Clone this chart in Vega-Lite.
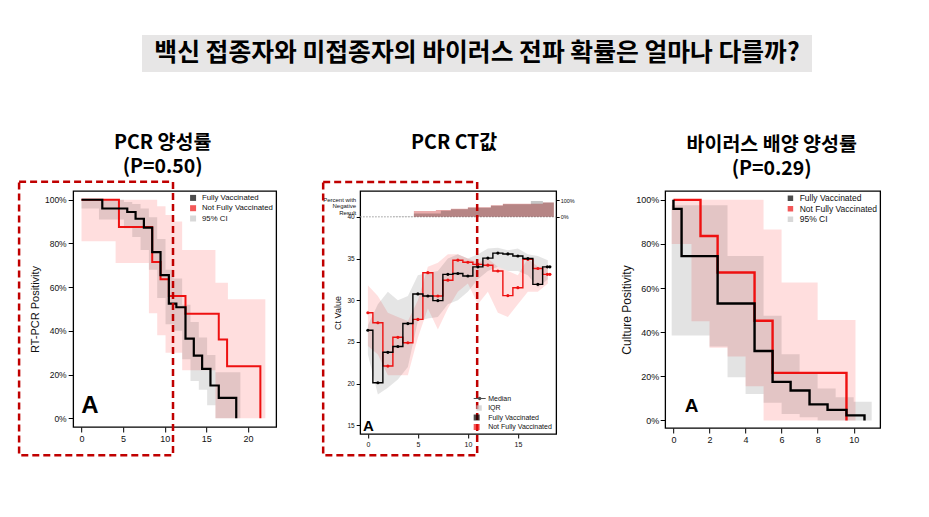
{
  "$schema": "https://vega.github.io/schema/vega-lite/v6.json",
  "background": "white",
  "padding": {"left": 17, "top": 35, "right": 2, "bottom": 2},
  "autosize": {"type": "pad"},
  "datasets": {
    "pcr_km": [
      {"g": "Fully Vaccinated", "t": 0, "v": 100}, {"g": "Fully Vaccinated", "t": 2.5, "v": 96}, {"g": "Fully Vaccinated", "t": 5.5, "v": 94.4},
      {"g": "Fully Vaccinated", "t": 6.5, "v": 91.3}, {"g": "Fully Vaccinated", "t": 7.5, "v": 87.2}, {"g": "Fully Vaccinated", "t": 8.5, "v": 76},
      {"g": "Fully Vaccinated", "t": 9.5, "v": 65.5}, {"g": "Fully Vaccinated", "t": 10.5, "v": 52.5}, {"g": "Fully Vaccinated", "t": 11.4, "v": 50.8},
      {"g": "Fully Vaccinated", "t": 12.5, "v": 36.4}, {"g": "Fully Vaccinated", "t": 13.5, "v": 28.7}, {"g": "Fully Vaccinated", "t": 14.5, "v": 22.6},
      {"g": "Fully Vaccinated", "t": 15.5, "v": 15}, {"g": "Fully Vaccinated", "t": 16.5, "v": 9.3}, {"g": "Fully Vaccinated", "t": 18.6, "v": 0},
      {"g": "Not Fully Vaccinated", "t": 0, "v": 100}, {"g": "Not Fully Vaccinated", "t": 4.5, "v": 87.5}, {"g": "Not Fully Vaccinated", "t": 8.5, "v": 71.5},
      {"g": "Not Fully Vaccinated", "t": 9.5, "v": 63.6}, {"g": "Not Fully Vaccinated", "t": 10.5, "v": 55.9}, {"g": "Not Fully Vaccinated", "t": 12.5, "v": 47.8},
      {"g": "Not Fully Vaccinated", "t": 16.5, "v": 36}, {"g": "Not Fully Vaccinated", "t": 17.5, "v": 23.8}, {"g": "Not Fully Vaccinated", "t": 21.5, "v": 0}
    ],
    "pcr_ci": [
      {"g": "Fully Vaccinated", "t": 0, "v2": 96, "v": 100}, {"g": "Fully Vaccinated", "t": 2.1, "v2": 91, "v": 100}, {"g": "Fully Vaccinated", "t": 5.1, "v2": 87, "v": 99},
      {"g": "Fully Vaccinated", "t": 6.1, "v2": 83, "v": 98}, {"g": "Fully Vaccinated", "t": 7.1, "v2": 77, "v": 96}, {"g": "Fully Vaccinated", "t": 8.1, "v2": 68, "v": 92},
      {"g": "Fully Vaccinated", "t": 9.1, "v2": 55, "v": 82}, {"g": "Fully Vaccinated", "t": 10.1, "v2": 43, "v": 68}, {"g": "Fully Vaccinated", "t": 11.1, "v2": 40, "v": 64},
      {"g": "Fully Vaccinated", "t": 12.1, "v2": 27, "v": 52}, {"g": "Fully Vaccinated", "t": 13.1, "v2": 17, "v": 44}, {"g": "Fully Vaccinated", "t": 14.1, "v2": 13, "v": 37},
      {"g": "Fully Vaccinated", "t": 15.1, "v2": 6, "v": 29}, {"g": "Fully Vaccinated", "t": 16.1, "v2": 0, "v": 21}, {"g": "Fully Vaccinated", "t": 19.1, "v2": 0, "v": 21},
      {"g": "Not Fully Vaccinated", "t": 0, "v2": 81, "v": 100}, {"g": "Not Fully Vaccinated", "t": 4.1, "v2": 71, "v": 100}, {"g": "Not Fully Vaccinated", "t": 8.1, "v2": 48, "v": 100},
      {"g": "Not Fully Vaccinated", "t": 9.1, "v2": 38, "v": 97}, {"g": "Not Fully Vaccinated", "t": 10.1, "v2": 30, "v": 93}, {"g": "Not Fully Vaccinated", "t": 11.1, "v2": 30, "v": 90},
      {"g": "Not Fully Vaccinated", "t": 12.1, "v2": 22, "v": 77}, {"g": "Not Fully Vaccinated", "t": 16.1, "v2": 0, "v": 62}, {"g": "Not Fully Vaccinated", "t": 17.6, "v2": 0, "v": 54.5},
      {"g": "Not Fully Vaccinated", "t": 22.1, "v2": 0, "v": 54.5}
    ],
    "ct_med": [
      {"g": "Fully Vaccinated", "d": 0, "v": 26.4}, {"g": "Fully Vaccinated", "d": 1, "v": 20.1}, {"g": "Fully Vaccinated", "d": 2, "v": 23.75},
      {"g": "Fully Vaccinated", "d": 3, "v": 24.45}, {"g": "Fully Vaccinated", "d": 4, "v": 27.2}, {"g": "Fully Vaccinated", "d": 5, "v": 30.75},
      {"g": "Fully Vaccinated", "d": 6, "v": 30.5}, {"g": "Fully Vaccinated", "d": 7, "v": 29.95}, {"g": "Fully Vaccinated", "d": 8, "v": 33.1},
      {"g": "Fully Vaccinated", "d": 9, "v": 33.2}, {"g": "Fully Vaccinated", "d": 10, "v": 32.9}, {"g": "Fully Vaccinated", "d": 11, "v": 34.0},
      {"g": "Fully Vaccinated", "d": 12, "v": 35.05}, {"g": "Fully Vaccinated", "d": 13, "v": 35.65}, {"g": "Fully Vaccinated", "d": 14, "v": 35.55},
      {"g": "Fully Vaccinated", "d": 15, "v": 35.3}, {"g": "Fully Vaccinated", "d": 16, "v": 35.0}, {"g": "Fully Vaccinated", "d": 17, "v": 31.9},
      {"g": "Fully Vaccinated", "d": 17.95, "v": 34.0}, {"g": "Fully Vaccinated", "d": 18.2, "v": 34.0},
      {"g": "Not Fully Vaccinated", "d": 0, "v": 28.5}, {"g": "Not Fully Vaccinated", "d": 1, "v": 27.3}, {"g": "Not Fully Vaccinated", "d": 2, "v": 22.1},
      {"g": "Not Fully Vaccinated", "d": 3, "v": 25.55}, {"g": "Not Fully Vaccinated", "d": 4, "v": 24.9}, {"g": "Not Fully Vaccinated", "d": 5, "v": 27.7},
      {"g": "Not Fully Vaccinated", "d": 6, "v": 33.3}, {"g": "Not Fully Vaccinated", "d": 7, "v": 30.5}, {"g": "Not Fully Vaccinated", "d": 8, "v": 32.4},
      {"g": "Not Fully Vaccinated", "d": 9, "v": 34.8}, {"g": "Not Fully Vaccinated", "d": 10, "v": 34.55}, {"g": "Not Fully Vaccinated", "d": 11, "v": 34.3},
      {"g": "Not Fully Vaccinated", "d": 12, "v": 34.2}, {"g": "Not Fully Vaccinated", "d": 13, "v": 33.5}, {"g": "Not Fully Vaccinated", "d": 14, "v": 30.55},
      {"g": "Not Fully Vaccinated", "d": 15, "v": 31.5}, {"g": "Not Fully Vaccinated", "d": 16, "v": 34.9}, {"g": "Not Fully Vaccinated", "d": 17, "v": 33.8},
      {"g": "Not Fully Vaccinated", "d": 17.95, "v": 33.1}, {"g": "Not Fully Vaccinated", "d": 18.2, "v": 33.1}
    ],
    "ct_iqr": [
      {"g": "Fully Vaccinated", "d": 0, "v2": 23.5, "v": 27.0}, {"g": "Fully Vaccinated", "d": 1, "v2": 18.7, "v": 29.5}, {"g": "Fully Vaccinated", "d": 2, "v2": 19.5, "v": 31.0},
      {"g": "Fully Vaccinated", "d": 3, "v2": 20.5, "v": 30.0}, {"g": "Fully Vaccinated", "d": 4, "v2": 22.0, "v": 30.5}, {"g": "Fully Vaccinated", "d": 5, "v2": 27.5, "v": 33.0},
      {"g": "Fully Vaccinated", "d": 6, "v2": 27.8, "v": 33.3}, {"g": "Fully Vaccinated", "d": 7, "v2": 28.0, "v": 33.5}, {"g": "Fully Vaccinated", "d": 8, "v2": 29.5, "v": 35.0},
      {"g": "Fully Vaccinated", "d": 9, "v2": 30.0, "v": 35.5}, {"g": "Fully Vaccinated", "d": 10, "v2": 31.0, "v": 35.0}, {"g": "Fully Vaccinated", "d": 11, "v2": 32.5, "v": 35.5},
      {"g": "Fully Vaccinated", "d": 12, "v2": 33.5, "v": 36.2}, {"g": "Fully Vaccinated", "d": 13, "v2": 34.0, "v": 36.3}, {"g": "Fully Vaccinated", "d": 14, "v2": 33.5, "v": 36.0},
      {"g": "Fully Vaccinated", "d": 15, "v2": 33.5, "v": 36.2}, {"g": "Fully Vaccinated", "d": 16, "v2": 33.0, "v": 35.5}, {"g": "Fully Vaccinated", "d": 17, "v2": 31.5, "v": 35.3},
      {"g": "Fully Vaccinated", "d": 18, "v2": 32.5, "v": 34.8},
      {"g": "Not Fully Vaccinated", "d": 0, "v2": 24.5, "v": 31.8}, {"g": "Not Fully Vaccinated", "d": 1, "v2": 23.5, "v": 30.5}, {"g": "Not Fully Vaccinated", "d": 2, "v2": 21.0, "v": 28.5},
      {"g": "Not Fully Vaccinated", "d": 3, "v2": 21.0, "v": 28.0}, {"g": "Not Fully Vaccinated", "d": 4, "v2": 21.0, "v": 27.5}, {"g": "Not Fully Vaccinated", "d": 5, "v2": 25.5, "v": 30.0},
      {"g": "Not Fully Vaccinated", "d": 6, "v2": 29.0, "v": 34.0}, {"g": "Not Fully Vaccinated", "d": 7, "v2": 26.5, "v": 34.5}, {"g": "Not Fully Vaccinated", "d": 8, "v2": 29.0, "v": 35.5},
      {"g": "Not Fully Vaccinated", "d": 9, "v2": 31.0, "v": 35.5}, {"g": "Not Fully Vaccinated", "d": 10, "v2": 32.0, "v": 35.0}, {"g": "Not Fully Vaccinated", "d": 11, "v2": 29.5, "v": 34.5},
      {"g": "Not Fully Vaccinated", "d": 12, "v2": 31.0, "v": 35.0}, {"g": "Not Fully Vaccinated", "d": 13, "v2": 28.5, "v": 34.0}, {"g": "Not Fully Vaccinated", "d": 14, "v2": 28.0, "v": 33.5},
      {"g": "Not Fully Vaccinated", "d": 15, "v2": 29.5, "v": 33.0}, {"g": "Not Fully Vaccinated", "d": 16, "v2": 31.0, "v": 35.0}, {"g": "Not Fully Vaccinated", "d": 17, "v2": 31.0, "v": 34.0},
      {"g": "Not Fully Vaccinated", "d": 18, "v2": 32.0, "v": 34.0}
    ],
    "ct_neg": [
      {"g": "Fully Vaccinated", "d": 2.5, "v": 2}, {"g": "Fully Vaccinated", "d": 4.6, "v": 20}, {"g": "Fully Vaccinated", "d": 7.3, "v": 35},
      {"g": "Fully Vaccinated", "d": 8.3, "v": 45}, {"g": "Fully Vaccinated", "d": 10.0, "v": 54}, {"g": "Fully Vaccinated", "d": 12.3, "v": 65},
      {"g": "Fully Vaccinated", "d": 13.5, "v": 75}, {"g": "Fully Vaccinated", "d": 16.3, "v": 94}, {"g": "Fully Vaccinated", "d": 17.5, "v": 85},
      {"g": "Fully Vaccinated", "d": 18.6, "v": 85},
      {"g": "Not Fully Vaccinated", "d": 4.6, "v": 34}, {"g": "Not Fully Vaccinated", "d": 6.8, "v": 40}, {"g": "Not Fully Vaccinated", "d": 8.3, "v": 48},
      {"g": "Not Fully Vaccinated", "d": 10.0, "v": 56}, {"g": "Not Fully Vaccinated", "d": 12.3, "v": 69}, {"g": "Not Fully Vaccinated", "d": 13.5, "v": 77},
      {"g": "Not Fully Vaccinated", "d": 17.5, "v": 85}, {"g": "Not Fully Vaccinated", "d": 18.6, "v": 85}
    ],
    "cul_km": [
      {"g": "Fully Vaccinated", "t": 0, "v": 100}, {"g": "Fully Vaccinated", "t": 0, "v": 95.9}, {"g": "Fully Vaccinated", "t": 0.45, "v": 74.5},
      {"g": "Fully Vaccinated", "t": 2.45, "v": 53}, {"g": "Fully Vaccinated", "t": 4.5, "v": 31.5}, {"g": "Fully Vaccinated", "t": 5.5, "v": 17.5},
      {"g": "Fully Vaccinated", "t": 6.5, "v": 13.6}, {"g": "Fully Vaccinated", "t": 7.55, "v": 7.3}, {"g": "Fully Vaccinated", "t": 8.55, "v": 4.8},
      {"g": "Fully Vaccinated", "t": 9.6, "v": 2.3}, {"g": "Fully Vaccinated", "t": 10.6, "v": 0},
      {"g": "Not Fully Vaccinated", "t": 0, "v": 100}, {"g": "Not Fully Vaccinated", "t": 1.5, "v": 83.6}, {"g": "Not Fully Vaccinated", "t": 2.45, "v": 67.1},
      {"g": "Not Fully Vaccinated", "t": 4.5, "v": 45.2}, {"g": "Not Fully Vaccinated", "t": 5.5, "v": 21.6}, {"g": "Not Fully Vaccinated", "t": 9.6, "v": 0}
    ],
    "cul_ci": [
      {"g": "Fully Vaccinated", "t": -0.1, "v2": 38.5, "v": 97.5}, {"g": "Fully Vaccinated", "t": 2, "v2": 33.5, "v": 97.5}, {"g": "Fully Vaccinated", "t": 3, "v2": 19.6, "v": 74.6},
      {"g": "Fully Vaccinated", "t": 4, "v2": 12, "v": 74.6}, {"g": "Fully Vaccinated", "t": 5, "v2": 8, "v": 47.5}, {"g": "Fully Vaccinated", "t": 6, "v2": 3, "v": 30},
      {"g": "Fully Vaccinated", "t": 7, "v2": 1.5, "v": 21.7}, {"g": "Fully Vaccinated", "t": 8, "v2": 0, "v": 14.5}, {"g": "Fully Vaccinated", "t": 9, "v2": 0, "v": 10.5},
      {"g": "Fully Vaccinated", "t": 10, "v2": 0, "v": 8.5}, {"g": "Fully Vaccinated", "t": 11, "v2": 0, "v": 8.5},
      {"g": "Not Fully Vaccinated", "t": -0.1, "v2": 80, "v": 100}, {"g": "Not Fully Vaccinated", "t": 1, "v2": 45, "v": 100}, {"g": "Not Fully Vaccinated", "t": 2, "v2": 33, "v": 100},
      {"g": "Not Fully Vaccinated", "t": 3, "v2": 29, "v": 100}, {"g": "Not Fully Vaccinated", "t": 4, "v2": 15.5, "v": 100}, {"g": "Not Fully Vaccinated", "t": 5, "v2": 0, "v": 86.5},
      {"g": "Not Fully Vaccinated", "t": 6, "v2": 0, "v": 62.5}, {"g": "Not Fully Vaccinated", "t": 8, "v2": 0, "v": 45.5}, {"g": "Not Fully Vaccinated", "t": 10.1, "v2": 0, "v": 45.5}
    ]
  },
  "vconcat": [
    {
      "width": 670,
      "height": 37,
      "view": {"fill": "#e7e6e6", "stroke": null},
      "data": {"values": [{"t": "백신 접종자와 미접종자의 바이러스 전파 확률은 얼마나 다를까?"}]},
      "mark": {"type": "text", "font": "Noto Sans CJK KR", "fontWeight": "bold", "fontSize": 24.8, "color": "#000"},
      "encoding": {
        "text": {"field": "t"},
        "y": {"field": "t", "type": "nominal", "axis": {"title": ".", "titleColor": "transparent", "titleFontSize": 10, "titlePadding": 47, "labels": false, "ticks": false, "domain": false}}
      }
    },
    {
      "hconcat": [
        {
          "width": 203,
          "height": 236,
          "title": {"text": ["PCR 양성률", "(P=0.50)"], "frame": "group", "dx": -12, "offset": 3},
          "encoding": {
            "x": {"field": "t", "type": "quantitative", "scale": {"domain": [-1, 23.4], "nice": false}, "axis": {"values": [0, 5, 10, 15, 20], "labelFontSize": 9}, "title": null},
            "y": {"field": "v", "type": "quantitative", "scale": {"domain": [-4, 104], "nice": false}, "axis": {"values": [0, 20, 40, 60, 80, 100], "labelExpr": "datum.value + '%'", "labelFontSize": 8.5, "titleFontSize": 11}, "title": "RT-PCR Positivity"}
          },
          "layer": [
            {
              "data": {"name": "pcr_ci"},
              "transform": [{"filter": "datum.g == 'Not Fully Vaccinated'"}],
              "mark": {"type": "area", "interpolate": "step-after", "color": "#ff0000", "opacity": 0.13},
              "encoding": {"y2": {"field": "v2"}}
            },
            {
              "data": {"name": "pcr_ci"},
              "transform": [{"filter": "datum.g == 'Fully Vaccinated'"}],
              "mark": {"type": "area", "interpolate": "step-after", "color": "#000", "opacity": 0.11},
              "encoding": {"y2": {"field": "v2"}}
            },
            {
              "data": {"name": "pcr_km"},
              "transform": [{"filter": "datum.g == 'Not Fully Vaccinated'"}],
              "mark": {"type": "line", "interpolate": "step-after", "color": "#ee1111", "strokeWidth": 2},
              "encoding": {}
            },
            {
              "data": {"name": "pcr_km"},
              "transform": [{"filter": "datum.g == 'Fully Vaccinated'"}],
              "mark": {"type": "line", "interpolate": "step-after", "color": "#000", "strokeWidth": 2.2},
              "encoding": {}
            },
            {
              "data": {"values": [{"t": 1.0, "v": 5.8, "label": "A"}]},
              "mark": {"type": "text", "font": "Liberation Sans", "fontWeight": "bold", "fontSize": 24, "baseline": "middle", "color": "#000"},
              "encoding": {"text": {"field": "label"}}
            },
            {
              "data": {"values": [{"t": -7.5, "t2": 11.0, "v": 108.2, "v2": -16.9}]},
              "mark": {"type": "rect", "filled": false, "stroke": "#c00000", "strokeWidth": 2.5, "strokeDash": [7, 4], "clip": false},
              "encoding": {"x2": {"field": "t2"}, "y2": {"field": "v2"}}
            },
            {
              "data": {"values": []},
              "mark": {"type": "point", "shape": "square", "filled": true},
              "encoding": {
                "fill": {"field": "k", "type": "nominal", "scale": {"domain": ["Fully Vaccinated", "Not Fully Vaccinated", "95% CI"], "range": ["#000", "#ee1111", "#c8c8c8"]},
                  "legend": {"title": null, "orient": "top-right", "offset": 3, "symbolType": "square", "symbolSize": 36, "labelFontSize": 7.8, "labelOffset": 5, "rowPadding": 1.3, "padding": 0}}
              }
            }
          ]
        },
        {
          "width": 196,
          "height": 243,
          "title": {"text": "PCR CT값", "frame": "group", "dx": -4, "offset": 27},
          "resolve": {"scale": {"y": "independent"}},
          "encoding": {
            "x": {"field": "d", "type": "quantitative", "scale": {"domain": [-0.77, 18.83], "nice": false}, "axis": {"values": [0, 5, 10, 15], "labelFontSize": 7, "tickSize": 4}, "title": null}
          },
          "layer": [
            {
              "encoding": {
                "y": {"field": "v", "type": "quantitative", "scale": {"domain": [13.95, 43.1], "nice": false}, "axis": {"orient": "left", "values": [15, 20, 25, 30, 35, 40], "labelFontSize": 6.5, "titleFontSize": 9, "tickSize": 4}, "title": "Ct Value"}
              },
              "layer": [
                {
                  "data": {"values": [{"d": -0.77, "d2": 18.83, "v": 40}]},
                  "mark": {"type": "rule", "color": "#999", "strokeDash": [1.5, 1.5], "strokeWidth": 1},
                  "encoding": {"x2": {"field": "d2"}}
                },
                {
                  "data": {"name": "ct_iqr"},
                  "transform": [{"filter": "datum.g == 'Not Fully Vaccinated'"}],
                  "mark": {"type": "area", "color": "#ff0000", "opacity": 0.12},
                  "encoding": {"y2": {"field": "v2"}}
                },
                {
                  "data": {"name": "ct_iqr"},
                  "transform": [{"filter": "datum.g == 'Fully Vaccinated'"}],
                  "mark": {"type": "area", "color": "#000", "opacity": 0.1},
                  "encoding": {"y2": {"field": "v2"}}
                },
                {
                  "data": {"name": "ct_med"},
                  "transform": [{"filter": "datum.g == 'Not Fully Vaccinated'"}],
                  "mark": {"type": "line", "interpolate": "step", "color": "#ee1111", "strokeWidth": 1.4, "point": {"filled": true, "size": 10, "color": "#ee1111"}},
                  "encoding": {}
                },
                {
                  "data": {"name": "ct_med"},
                  "transform": [{"filter": "datum.g == 'Fully Vaccinated'"}],
                  "mark": {"type": "line", "interpolate": "step", "color": "#000", "strokeWidth": 1.4, "point": {"filled": true, "size": 10, "color": "#000"}},
                  "encoding": {}
                },
                {
                  "data": {"values": [{"d": 0.05, "v": 14.9, "label": "A"}]},
                  "mark": {"type": "text", "font": "Liberation Sans", "fontWeight": "bold", "fontSize": 15, "baseline": "middle", "color": "#000"},
                  "encoding": {"text": {"field": "label"}}
                },
                {
                  "data": {"values": []},
                  "mark": {"type": "point", "filled": true},
                  "encoding": {
                    "color": {"field": "k", "type": "nominal", "scale": {"domain": ["Median", "IQR", "Fully Vaccinated", "Not Fully Vaccinated"], "range": ["#000", "#c8c8c8", "#000", "#ee1111"]},
                      "legend": {"title": null, "orient": "bottom-right", "offset": 4, "symbolSize": 36, "labelFontSize": 7, "labelOffset": 8, "rowPadding": 1.5, "padding": 0}},
                    "shape": {"field": "k", "type": "nominal", "scale": {"domain": ["Median", "IQR", "Fully Vaccinated", "Not Fully Vaccinated"], "range": ["M-1,-0.17H3V0.17H-1Z M1.55,0A0.55,0.55 0 1,1 0.45,0A0.55,0.55 0 1,1 1.55,0Z", "M-0.1,-0.9H1.7V0.9H-0.1Z", "square", "square"]},
                      "legend": {"title": null, "orient": "bottom-right", "offset": 4, "symbolSize": 36, "labelFontSize": 7, "labelOffset": 8, "rowPadding": 1.5, "padding": 0}}
                  }
                }
              ]
            },
            {
              "encoding": {
                "y": {"field": "v", "type": "quantitative", "scale": {"domain": [-1301, 154], "nice": false}, "axis": {"orient": "right", "values": [0, 100], "labelExpr": "datum.value + '%'", "labelFontSize": 5.5, "labelPadding": 1, "tickSize": 3}, "title": null}
              },
              "layer": [
                {
                  "data": {"name": "ct_neg"},
                  "transform": [{"filter": "datum.g == 'Not Fully Vaccinated'"}],
                  "mark": {"type": "area", "interpolate": "step-after", "color": "#c00000", "opacity": 0.33},
                  "encoding": {"y2": {"datum": 0}}
                },
                {
                  "data": {"name": "ct_neg"},
                  "transform": [{"filter": "datum.g == 'Fully Vaccinated'"}],
                  "mark": {"type": "area", "interpolate": "step-after", "color": "#000", "opacity": 0.22},
                  "encoding": {"y2": {"datum": 0}}
                },
                {
                  "data": {"values": [{"d": -0.77, "v": 100, "label": "Percent with\nNegative\nResult"}]},
                  "mark": {"type": "text", "align": "right", "baseline": "middle", "dx": -4, "fontSize": 6, "lineBreak": "\n", "lineHeight": 6.3, "font": "Liberation Sans", "color": "#111", "clip": false},
                  "encoding": {"text": {"field": "label"}}
                }
              ]
            },
            {
              "data": {"values": [{"d": -4.47, "d2": 10.93, "v": 44.17, "v2": 11.4}]},
              "mark": {"type": "rect", "filled": false, "stroke": "#c00000", "strokeWidth": 2.5, "strokeDash": [7, 4], "clip": false},
              "encoding": {
                "x2": {"field": "d2"},
                "y": {"field": "v", "type": "quantitative", "scale": {"domain": [13.95, 43.1], "nice": false}, "axis": null},
                "y2": {"field": "v2"}
              }
            }
          ]
        },
        {
          "width": 215,
          "height": 237,
          "title": {"text": ["바이러스 배양 양성률", "(P=0.29)"], "frame": "group", "dx": -1, "offset": 12},
          "encoding": {
            "x": {"field": "t", "type": "quantitative", "scale": {"domain": [-0.46, 11.47], "nice": false}, "axis": {"values": [0, 2, 4, 6, 8, 10], "labelFontSize": 9}, "title": null},
            "y": {"field": "v", "type": "quantitative", "scale": {"domain": [-3.4, 104], "nice": false}, "axis": {"values": [0, 20, 40, 60, 80, 100], "labelExpr": "datum.value + '%'", "labelFontSize": 9, "labelPadding": 1.5, "titleFontSize": 12, "titlePadding": 2}, "title": "Culture Positivity"}
          },
          "layer": [
            {
              "data": {"name": "cul_ci"},
              "transform": [{"filter": "datum.g == 'Not Fully Vaccinated'"}],
              "mark": {"type": "area", "interpolate": "step-after", "color": "#ff0000", "opacity": 0.13},
              "encoding": {"y2": {"field": "v2"}}
            },
            {
              "data": {"name": "cul_ci"},
              "transform": [{"filter": "datum.g == 'Fully Vaccinated'"}],
              "mark": {"type": "area", "interpolate": "step-after", "color": "#000", "opacity": 0.11},
              "encoding": {"y2": {"field": "v2"}}
            },
            {
              "data": {"name": "cul_km"},
              "transform": [{"filter": "datum.g == 'Not Fully Vaccinated'"}],
              "mark": {"type": "line", "interpolate": "step-after", "color": "#ee1111", "strokeWidth": 2.4},
              "encoding": {}
            },
            {
              "data": {"name": "cul_km"},
              "transform": [{"filter": "datum.g == 'Fully Vaccinated'"}],
              "mark": {"type": "line", "interpolate": "step-after", "color": "#000", "strokeWidth": 2.4},
              "encoding": {}
            },
            {
              "data": {"values": [{"t": 1.0, "v": 6.7, "label": "A"}]},
              "mark": {"type": "text", "font": "Liberation Sans", "fontWeight": "bold", "fontSize": 19, "baseline": "middle", "color": "#000"},
              "encoding": {"text": {"field": "label"}}
            },
            {
              "data": {"values": []},
              "mark": {"type": "point", "shape": "square", "filled": true},
              "encoding": {
                "fill": {"field": "k", "type": "nominal", "scale": {"domain": ["Fully Vaccinated", "Not Fully Vaccinated", "95% CI"], "range": ["#000", "#ee1111", "#c8c8c8"]},
                  "legend": {"title": null, "orient": "top-right", "offset": 3, "symbolType": "square", "symbolSize": 30, "labelFontSize": 8.5, "labelOffset": 5, "rowPadding": 1.5, "padding": 0}}
              }
            }
          ]
        }
      ],
      "spacing": 44,
      "resolve": {"scale": {"fill": "independent", "color": "independent", "shape": "independent"}}
    }
  ],
  "center": true,
  "spacing": 60,
  "resolve": {"scale": {"fill": "independent", "color": "independent", "shape": "independent"}},
  "config": {
    "view": {"stroke": "#000", "strokeWidth": 1.3},
    "axis": {"grid": false, "domain": false, "tickColor": "#000", "tickSize": 5, "tickWidth": 1, "labelFont": "Liberation Sans", "labelColor": "#111", "labelPadding": 2, "labelFlush": false, "titleFont": "Liberation Sans", "titleFontWeight": "normal", "titleColor": "#111", "titlePadding": 4},
    "title": {"font": "Noto Sans CJK KR", "fontWeight": "bold", "fontSize": 19.5, "color": "#000", "lineHeight": 24},
    "legend": {"labelFont": "Liberation Sans", "labelColor": "#111", "symbolStrokeWidth": 0}
  }
}
